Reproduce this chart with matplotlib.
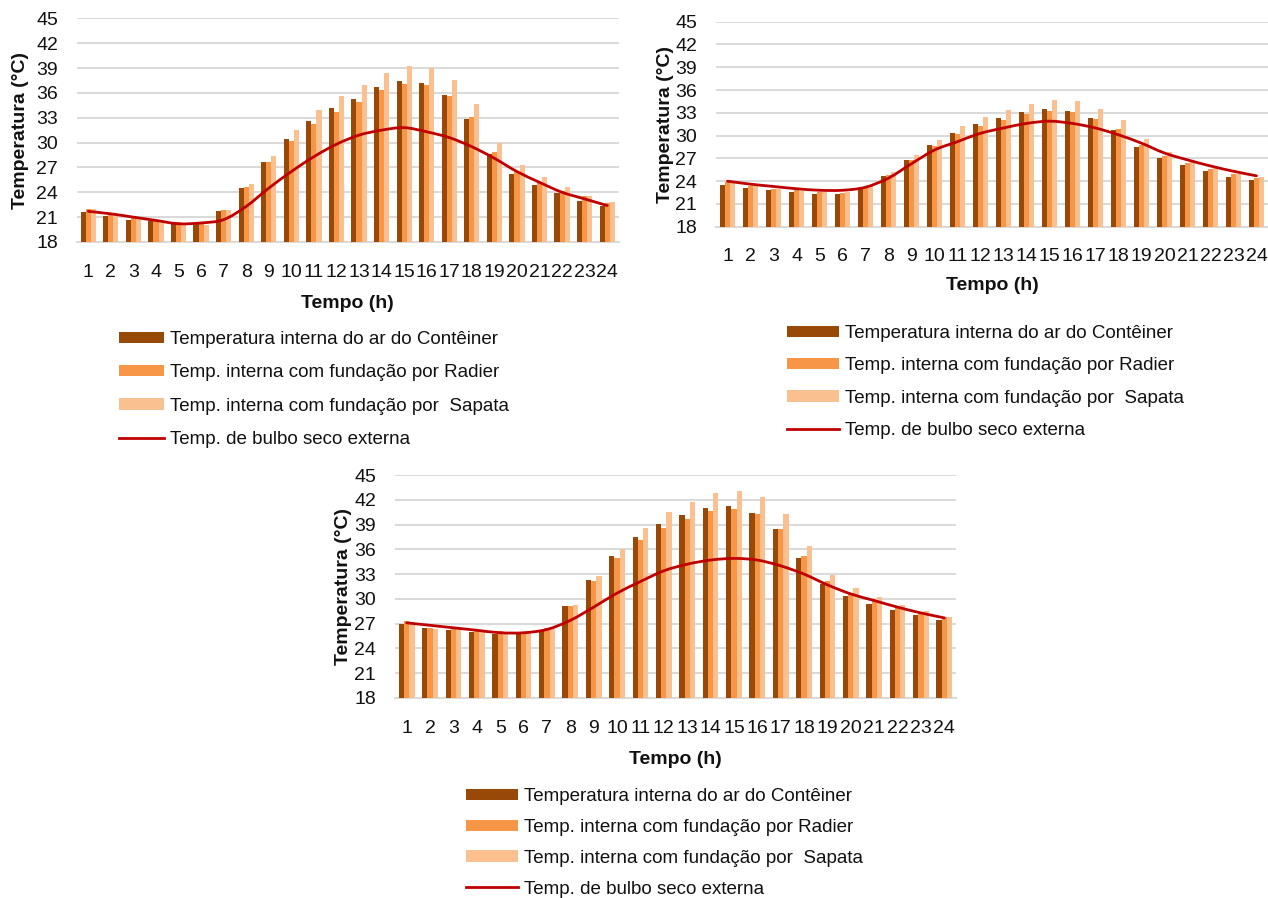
import numpy as np
import matplotlib
matplotlib.use('Agg')
import matplotlib.pyplot as plt
from matplotlib.path import Path
from matplotlib.patches import PathPatch, Patch
from matplotlib.lines import Line2D
from matplotlib import font_manager

# ---------------- data ----------------
hours = list(range(1, 25))
hour_labels = [str(h) for h in hours]
yticks = list(range(18, 46, 3))

series_labels = [
    "Temperatura interna do ar do Contêiner",
    "Temp. interna com fundação por Radier",
    "Temp. interna com fundação por  Sapata",
    "Temp. de bulbo seco externa",
]

# top-left chart
a_container = [21.6, 21.1, 20.7, 20.5, 20.2, 20.2, 21.7, 24.5, 27.7, 30.4, 32.6, 34.2,
               35.3, 36.7, 37.4, 37.2, 35.7, 32.9, 28.6, 26.2, 24.9, 23.9, 23.0, 22.3]
a_radier = [22.0, 21.5, 21.0, 20.7, 20.4, 20.2, 21.9, 24.6, 27.6, 30.2, 32.2, 33.7,
            34.9, 36.3, 37.1, 36.9, 35.6, 33.1, 28.9, 26.5, 25.2, 24.2, 23.5, 22.7]
a_sapata = [22.0, 21.4, 20.9, 20.3, 20.3, 20.1, 21.9, 25.0, 28.4, 31.5, 33.9, 35.6,
            37.0, 38.4, 39.2, 39.0, 37.6, 34.7, 29.9, 27.3, 25.8, 24.6, 23.6, 22.8]
a_externa = [21.7, 21.4, 21.0, 20.6, 20.2, 20.3, 20.7, 22.3, 24.5, 26.5, 28.3, 29.8,
             30.9, 31.5, 31.8, 31.3, 30.6, 29.5, 28.1, 26.5, 25.2, 24.0, 23.2, 22.4]

# top-right chart
b_container = [23.5, 23.1, 22.8, 22.6, 22.3, 22.3, 23.0, 24.7, 26.8, 28.8, 30.3, 31.5,
               32.3, 33.1, 33.5, 33.2, 32.3, 30.7, 28.5, 27.0, 26.1, 25.3, 24.6, 24.1]
b_radier = [23.9, 23.4, 23.0, 22.8, 22.6, 22.5, 23.2, 24.8, 26.8, 28.6, 30.2, 31.3,
            32.0, 32.9, 33.3, 33.1, 32.2, 30.9, 28.8, 27.3, 26.4, 25.6, 25.0, 24.4]
b_sapata = [23.8, 23.4, 23.0, 22.7, 22.6, 22.6, 23.3, 25.2, 27.4, 29.4, 31.2, 32.5,
            33.4, 34.2, 34.7, 34.5, 33.5, 32.0, 29.6, 27.9, 26.6, 25.7, 25.0, 24.6]
b_externa = [24.0, 23.6, 23.3, 23.0, 22.8, 22.8, 23.2, 24.4, 26.3, 28.1, 29.2, 30.3,
             31.0, 31.6, 31.9, 31.6, 31.0, 30.1, 29.0, 27.7, 26.8, 26.0, 25.3, 24.7]

# bottom chart
c_container = [27.0, 26.5, 26.2, 26.0, 25.8, 25.8, 26.2, 29.1, 32.3, 35.2, 37.5, 39.1,
               40.1, 41.0, 41.2, 40.4, 38.5, 34.9, 31.8, 30.4, 29.4, 28.7, 28.0, 27.4]
c_radier = [27.3, 26.5, 26.5, 26.2, 26.1, 25.9, 26.5, 29.1, 32.2, 34.9, 37.1, 38.6,
            39.7, 40.6, 40.9, 40.3, 38.5, 35.2, 32.2, 30.7, 29.8, 29.0, 28.3, 27.8]
c_sapata = [27.2, 26.4, 26.4, 26.1, 26.0, 25.9, 26.4, 29.3, 32.8, 36.0, 38.6, 40.5,
            41.7, 42.8, 43.1, 42.3, 40.3, 36.4, 32.9, 31.3, 30.2, 29.3, 28.5, 27.8]
c_externa = [27.1, 26.8, 26.5, 26.2, 25.9, 25.9, 26.3, 27.4, 29.0, 30.7, 32.1, 33.4,
             34.2, 34.7, 34.9, 34.7, 34.0, 33.0, 31.7, 30.6, 29.8, 29.0, 28.3, 27.7]

# ---------------- style ----------------
names = {f.name for f in font_manager.fontManager.ttflist}
FONT = 'Liberation Sans Narrow' if 'Liberation Sans Narrow' in names else 'Liberation Sans'
plt.rcParams['font.family'] = [FONT, 'DejaVu Sans']

C_DARK = '#984807'
C_MED = '#F79646'
C_LIGHT = '#FAC090'
C_LINE = '#C00000'
C_GRID = '#D9D9D9'
TXT = '#111111'

W, H = 1268, 898
fig = plt.figure(figsize=(W / 100, H / 100), dpi=100)


def fx(x):
    return x / W


def fy(y):
    return 1 - y / H


def smooth_path(xs, ys):
    pts = np.column_stack([xs, ys]).astype(float)
    n = len(pts)
    verts = [pts[0]]
    codes = [Path.MOVETO]
    for i in range(n - 1):
        p0 = pts[max(i - 1, 0)]
        p1 = pts[i]
        p2 = pts[i + 1]
        p3 = pts[min(i + 2, n - 1)]
        c1 = p1 + (p2 - p0) / 6.0
        c2 = p2 - (p3 - p1) / 6.0
        verts += [c1, c2, p2]
        codes += [Path.CURVE4] * 3
    return Path(verts, codes)


def draw_chart(box, container, radier, sapata, externa, ylab_x, xlab_y, legend_spec):
    left, right, top, bottom = box
    ax = fig.add_axes([fx(left), fy(bottom), (right - left) / W, (bottom - top) / H])
    x = np.array(hours, dtype=float)
    bw = 0.225
    ax.bar(x - bw, container, bw, color=C_DARK, zorder=2)
    ax.bar(x, radier, bw, color=C_MED, zorder=2)
    ax.bar(x + bw, sapata, bw, color=C_LIGHT, zorder=2)
    ax.add_patch(PathPatch(smooth_path(x, externa), fill=False, edgecolor=C_LINE,
                           lw=2.0, zorder=3, capstyle='round'))
    ax.set_xlim(0.5, 24.5)
    ax.set_ylim(18, 45)
    ax.set_yticks(yticks)
    ax.set_yticklabels([str(t) for t in yticks])
    ax.set_xticks(hours)
    ax.set_xticklabels(hour_labels)
    ax.yaxis.grid(True, color=C_GRID, lw=1.4)
    ax.set_axisbelow(True)
    for s in ['top', 'right', 'left']:
        ax.spines[s].set_visible(False)
    ax.spines['bottom'].set_color(C_GRID)
    ax.spines['bottom'].set_linewidth(1.4)
    ax.spines['bottom'].set_zorder(1)
    ax.tick_params(axis='y', length=0, pad=13.7, labelsize=14, labelcolor=TXT)
    ax.tick_params(axis='x', length=0, pad=15.5, labelsize=14, labelcolor=TXT)
    ax.patch.set_visible(False)

    fig.text(fx(ylab_x), fy((top + bottom) / 2), "Temperatura (°C)", rotation=90,
             ha='center', va='center', fontsize=14, fontweight='bold', color=TXT)
    fig.text(fx((left + right) / 2), fy(xlab_y), "Tempo (h)", ha='center', va='center',
             fontsize=14, fontweight='bold', color=TXT)

    lx, ly, hl, ls = legend_spec
    handles = [Patch(facecolor=C_DARK), Patch(facecolor=C_MED), Patch(facecolor=C_LIGHT),
               Line2D([0], [0], color=C_LINE, lw=2.0)]
    fig.legend(handles, series_labels, loc='upper left', bbox_to_anchor=(fx(lx), fy(ly)),
               frameon=False, fontsize=13.5, handlelength=hl, handleheight=0.55,
               handletextpad=0.3, labelspacing=ls, borderpad=0, borderaxespad=0,
               labelcolor=TXT)
    return ax


draw_chart((77, 618.5, 18.3, 242), a_container, a_radier, a_sapata, a_externa,
           21, 303, (119, 331, 2.4, 0.87))
draw_chart((716, 1268, 21.7, 226.7), b_container, b_radier, b_sapata, b_externa,
           665, 285, (787, 325, 2.77, 0.82))
draw_chart((395, 956, 475, 698), c_container, c_radier, c_sapata, c_externa,
           344, 759, (466, 788, 2.77, 0.74))

fig.savefig('out.png', dpi=100)
